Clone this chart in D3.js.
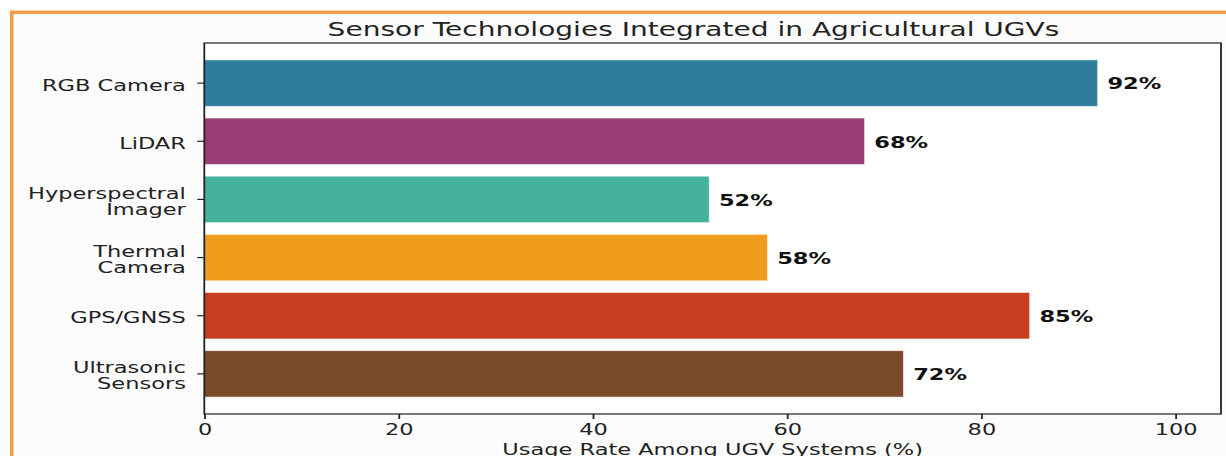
<!DOCTYPE html>
<html>
<head>
<meta charset="utf-8">
<script src="https://cdn.jsdelivr.net/npm/d3@7"></script>
<style>
  html, body { margin: 0; padding: 0; background: #ffffff; }
  svg { display: block; }
  text { font-family: "DejaVu Sans", sans-serif; fill: #222; }
</style>
</head>
<body>
<svg id="chart" width="1226" height="456"></svg>
<script>
// Sensor categories, top to bottom
const categories = ["RGB Camera", "LiDAR", "Hyperspectral\nImager", "Thermal\nCamera", "GPS/GNSS", "Ultrasonic\nSensors"];
// Share of UGV systems using each sensor (%)
const usageRates = [92, 68, 52, 58, 85, 72];
const barColors = ["#2e7d9c", "#9b3b75", "#45b29d", "#f09c1c", "#c83c20", "#7a4a2a"];
const xTicks = [0, 20, 40, 60, 80, 100];

const chartTitle = "Sensor Technologies Integrated in Agricultural UGVs";
const xAxisLabel = "Usage Rate Among UGV Systems (%)";

// Drawing is done in a narrower coordinate space and stretched horizontally
const SX = 1.5;
const outerW = 1226, outerH = 456;
const W = outerW / SX, H = outerH;

const svg = d3.select("#chart")
  .attr("viewBox", `0 0 ${W} ${H}`)
  .attr("preserveAspectRatio", "none");

// Card background and orange frame
svg.append("rect").attr("x", 0).attr("y", 0).attr("width", W).attr("height", H).attr("fill", "#ffffff");
svg.append("rect")
  .attr("x", 11.7 / SX).attr("y", 12.2)
  .attr("width", W + 10).attr("height", H + 10)
  .attr("fill", "#fcfcfc")
  .attr("stroke", "#f59a48")
  .attr("stroke-width", 3.5)
  .attr("vector-effect", "non-scaling-stroke");

const plot = { left: 204.3 / SX, right: 1221 / SX, top: 43, bottom: 414 };

const x = d3.scaleLinear().domain([0, 104.7]).range([plot.left, plot.right]);
const y = d3.scaleBand().domain(categories).range([plot.top, plot.bottom])
  .paddingInner(0.2).paddingOuter(0.29);

// Axes area
svg.append("rect")
  .attr("x", plot.left).attr("y", plot.top)
  .attr("width", plot.right - plot.left).attr("height", plot.bottom - plot.top)
  .attr("fill", "#ffffff");

// Bars
svg.append("g").selectAll("rect")
  .data(categories)
  .join("rect")
  .attr("x", x(0))
  .attr("y", d => y(d))
  .attr("width", (d, i) => x(usageRates[i]) - x(0))
  .attr("height", y.bandwidth())
  .attr("fill", (d, i) => barColors[i])
  .attr("stroke", "#ffffff")
  .attr("stroke-opacity", 0.6)
  .attr("stroke-width", 1)
  .attr("vector-effect", "non-scaling-stroke");

// Value labels
svg.append("g").selectAll("text")
  .data(categories)
  .join("text")
  .attr("x", (d, i) => x(usageRates[i] + 1))
  .attr("y", d => y(d) + y.bandwidth() / 2 + 6.3)
  .attr("font-size", 15)
  .attr("font-weight", "bold")
  .style("fill", "#111")
  .text((d, i) => usageRates[i] + "%");

// Spines
const spine = svg.append("g").attr("fill", "none").attr("stroke", "#222").attr("stroke-width", 1.2);
spine.append("rect")
  .attr("x", plot.left).attr("y", plot.top)
  .attr("width", plot.right - plot.left).attr("height", plot.bottom - plot.top);

// X axis
const xAxis = d3.axisBottom(x).tickValues(xTicks).tickSize(5).tickPadding(5).tickFormat(d3.format("d"));
const gx = svg.append("g").attr("transform", `translate(0,${plot.bottom})`).call(xAxis);
gx.select(".domain").remove();
gx.selectAll(".tick line").attr("stroke", "#222").attr("stroke-width", 1.2);
gx.selectAll(".tick text")
  .attr("font-size", 15)
  .attr("font-family", "DejaVu Sans, sans-serif")
  .style("fill", "#222")
  .attr("dy", null)
  .attr("y", 21);

// Y axis with multi-line labels
const yAxis = d3.axisLeft(y).tickSize(4.7).tickPadding(0);
const gy = svg.append("g").attr("transform", `translate(${plot.left},0)`).call(yAxis);
gy.select(".domain").remove();
gy.selectAll(".tick line").attr("stroke", "#222").attr("stroke-width", 1.2);
gy.selectAll(".tick text").each(function(d) {
  const t = d3.select(this);
  const lines = d.split("\n");
  const lh = 15.8, cap = 11;
  const lastBase = 2 + (cap + (lines.length - 1) * lh) / 2;
  t.text(null)
    .attr("dy", null)
    .attr("y", 0)
    .attr("font-size", 15)
    .attr("font-family", "DejaVu Sans, sans-serif")
    .attr("text-anchor", "end")
    .style("fill", "#222");
  lines.forEach((ln, k) => {
    t.append("tspan")
      .attr("x", -12.3)
      .attr("y", lastBase - (lines.length - 1 - k) * lh)
      .text(ln);
  });
});

// Title
svg.append("text")
  .attr("x", 693.5 / SX)
  .attr("y", 36)
  .attr("text-anchor", "middle")
  .attr("font-size", 18.7)
  .style("fill", "#222")
  .text(chartTitle);

// X axis label
svg.append("text")
  .attr("x", (plot.left + plot.right) / 2)
  .attr("y", 455)
  .attr("text-anchor", "middle")
  .attr("font-size", 15)
  .style("fill", "#222")
  .text(xAxisLabel);
</script>
</body>
</html>
